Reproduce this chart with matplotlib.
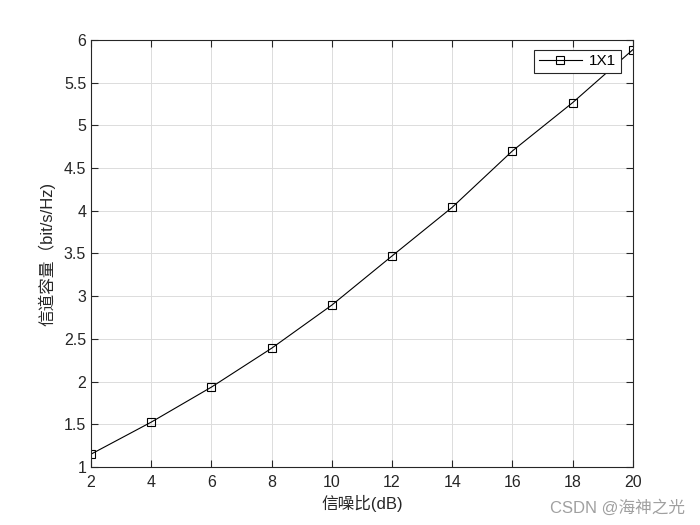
import numpy as np
import matplotlib
matplotlib.use("Agg")
import matplotlib.pyplot as plt

plt.rcParams['font.family'] = ['Liberation Sans', 'Noto Sans CJK SC', 'DejaVu Sans']

# SNR (dB) and capacity of the 1x1 link
snr_db = [2, 4, 6, 8, 10, 12, 14, 16, 18, 20]
capacity = [1.15, 1.525, 1.935, 2.39, 2.895, 3.47, 4.04, 4.70, 5.265, 5.885]

fig = plt.figure(figsize=(7, 5.25), dpi=100)
ax = fig.add_axes([0.13, 0.1105, 0.774, 0.8135])

ax.plot(snr_db, capacity, color='black', linewidth=0.8, marker='s', markersize=6,
        markerfacecolor='none', markeredgecolor='black', markeredgewidth=0.8, label='1X1')

ax.set_xlim(2, 20)
ax.set_ylim(1, 6)
ax.set_xticks(np.arange(2, 21, 2))
ax.set_yticks(np.arange(1, 6.01, 0.5))
ax.set_yticklabels(['1', '1.5', '2', '2.5', '3', '3.5', '4', '4.5', '5', '5.5', '6'])
ax.grid(True, color='#dcdcdc', linewidth=0.7)
ax.tick_params(direction='in', top=True, right=True, labelsize=11.5, colors='#262626', length=5)
ax.tick_params(axis='x', pad=6)
for s in ax.spines.values():
    s.set_color('#262626')
    s.set_linewidth(0.8)

ax.set_xlabel('信噪比(dB)', fontsize=12, color='#262626', labelpad=3)
ax.set_ylabel('信道容量（bit/s/Hz)', fontsize=12, color='#262626', labelpad=6)

leg = ax.legend(loc='upper right', fontsize=11, frameon=True, fancybox=False,
                edgecolor='#262626', framealpha=1, borderpad=0.3, borderaxespad=0,
                handlelength=2.8, handletextpad=0.5, bbox_to_anchor=(0.978, 0.977))
leg.get_frame().set_linewidth(0.8)

fig.text(0.978, 0.018, 'CSDN @海神之光', ha='right', va='bottom', fontsize=12, color='#a0a0a0')

fig.savefig('out.png', dpi=100, facecolor='white')
